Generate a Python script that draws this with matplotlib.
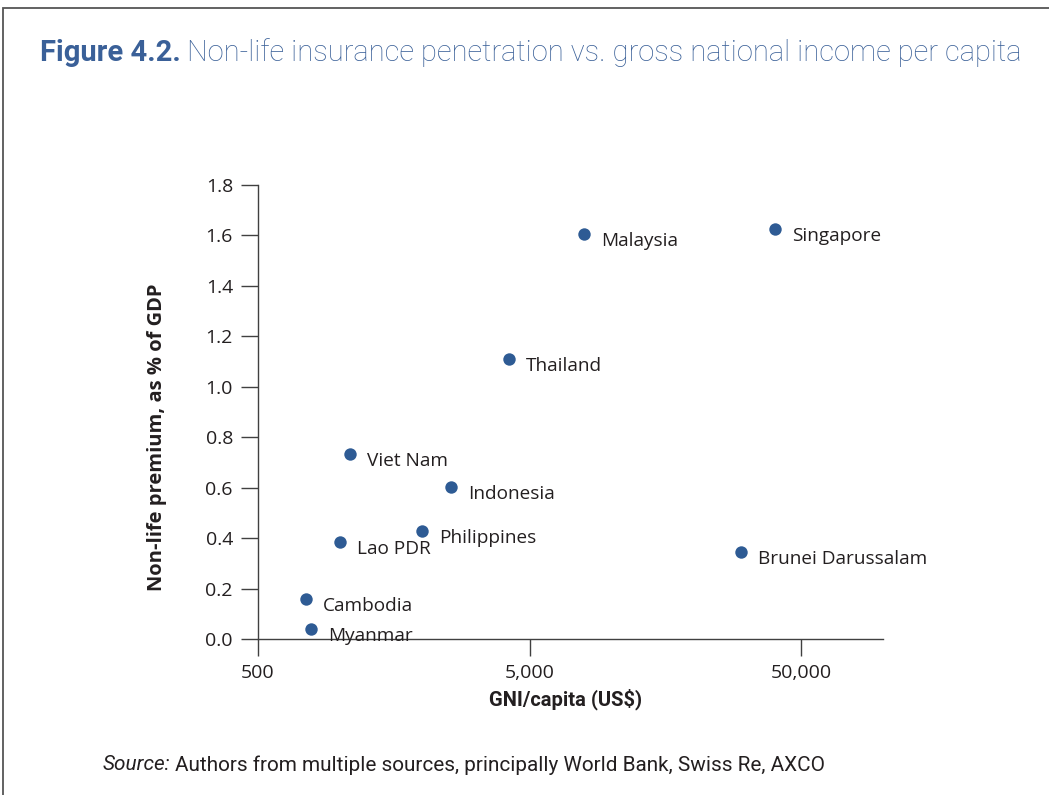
import matplotlib.pyplot as plt
import matplotlib.patches as mpatches
from matplotlib import font_manager
from matplotlib.ticker import FixedLocator, NullLocator

# Data
countries = ["Singapore", "Malaysia", "Thailand", "Viet Nam", "Indonesia",
             "Philippines", "Lao PDR", "Brunei Darussalam", "Cambodia", "Myanmar"]
gni_per_capita = [39900, 7920, 4190, 1090, 2560, 2010, 1000, 30000, 748, 785]
nonlife_pct_gdp = [1.627, 1.605, 1.11, 0.733, 0.603, 0.429, 0.386, 0.345, 0.159, 0.040]

x_ticks = [500, 5000, 50000]
x_tick_labels = ["500", "5,000", "50,000"]
y_ticks = [0.0, 0.2, 0.4, 0.6, 0.8, 1.0, 1.2, 1.4, 1.6, 1.8]

dark = "#231f20"
blue = "#2e5b94"
title_blue = "#3a6098"

installed = {f.name for f in font_manager.fontManager.ttflist}
narrow_name = "Liberation Sans Narrow" if "Liberation Sans Narrow" in installed else "Roboto"
narrow = [narrow_name, "DejaVu Sans"]
plain = ["Open Sans", "DejaVu Sans"]

W, H = 1049, 795
fig = plt.figure(figsize=(W / 100, H / 100), dpi=100)


def two_part(x0, yc, first, second, target_w, size, gap, kw1, kw2):
    # draw "first second" on one line and scale the font so it spans target_w px
    for _ in range(3):
        a = fig.text(x0 / W, 1 - yc / H, first, ha="left", va="center", fontsize=size, **kw1)
        fig.canvas.draw()
        bb = a.get_window_extent()
        b = fig.text((bb.x1 + gap) / W, 1 - yc / H, second, ha="left", va="center",
                     fontsize=size, **kw2)
        fig.canvas.draw()
        total = b.get_window_extent().x1 - x0
        if abs(total - target_w) < 3:
            return
        a.remove()
        b.remove()
        size = size * target_w / total
    a = fig.text(x0 / W, 1 - yc / H, first, ha="left", va="center", fontsize=size, **kw1)
    fig.canvas.draw()
    bb = a.get_window_extent()
    fig.text((bb.x1 + gap) / W, 1 - yc / H, second, ha="left", va="center",
             fontsize=size, **kw2)


# frame around the figure
fig.patches.append(mpatches.Rectangle((3 / W, -0.05), 1.1, 1 - 8 / H + 0.05,
                                      transform=fig.transFigure, fill=False,
                                      edgecolor="#555555", linewidth=1.3))

ax = fig.add_axes([258 / W, 1 - 639 / H, (883 - 258) / W, (639 - 185) / H])
ax.scatter(gni_per_capita, nonlife_pct_gdp, s=80, color=blue, zorder=3, linewidths=0)
for name, x, y in zip(countries, gni_per_capita, nonlife_pct_gdp):
    ax.annotate(name, (x, y), xytext=(12.5, -8.6), textcoords="offset points",
                va="baseline", ha="left", fontsize=13.7, color=dark, family=plain)

ax.set_xscale("log")
ax.set_xlim(500, 100000)
ax.set_ylim(0, 1.8)
ax.xaxis.set_major_locator(FixedLocator(x_ticks))
ax.xaxis.set_minor_locator(NullLocator())
ax.set_xticklabels(x_tick_labels)
ax.set_yticks(y_ticks)
ax.set_yticklabels([f"{v:.1f}" for v in y_ticks])

for side in ["top", "right"]:
    ax.spines[side].set_visible(False)
for side in ["left", "bottom"]:
    ax.spines[side].set_color("#404040")
    ax.spines[side].set_linewidth(1.0)
ax.tick_params(axis="both", length=12, width=1.0, color="#404040",
               labelsize=14, labelcolor=dark, pad=6)
for lab in ax.get_xticklabels() + ax.get_yticklabels():
    lab.set_family(plain)

fig.text(566 / W, 1 - 699 / H, "GNI/capita (US$)", ha="center", va="center",
         fontsize=14.5, fontweight="bold", color=dark, family=narrow)
fig.text(157 / W, 1 - 437 / H, "Non-life premium, as % of GDP", ha="center",
         va="center", rotation=90, fontsize=14.5, fontweight="bold", color=dark,
         family=plain)

# title
two_part(40, 53, "Figure 4.2.",
         "Non-life insurance penetration vs. gross national income per capita",
         984, 20, 6,
         dict(fontweight="bold", color=title_blue, family=narrow),
         dict(fontweight="light", color=title_blue, family=narrow))

# source note
two_part(103, 765, "Source:",
         "Authors from multiple sources, principally World Bank, Swiss Re, AXCO",
         719, 13, 4,
         dict(style="italic", color=dark, family=narrow),
         dict(color=dark, family=narrow))

fig.savefig("out.png", dpi=100)
